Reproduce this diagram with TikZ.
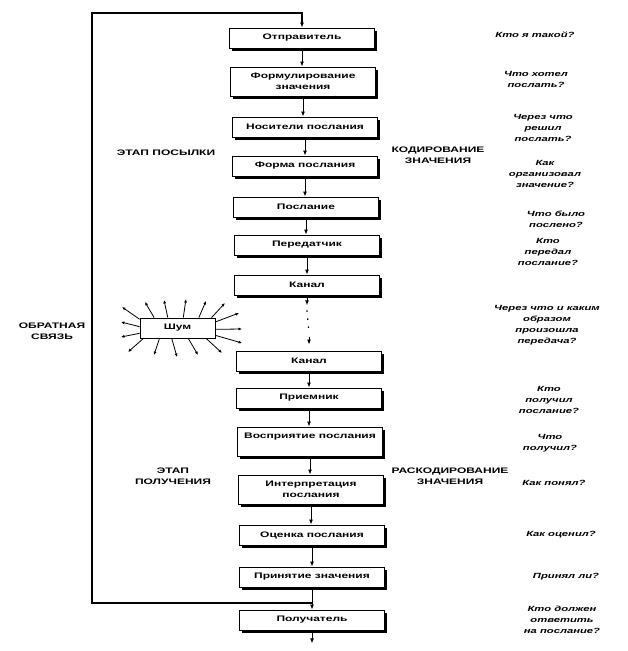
\documentclass[tikz,border=0pt]{standalone}
\usepackage{fontspec}
\setmainfont{Liberation Sans}[FakeStretch=1.5]
\usetikzlibrary{positioning,arrows.meta,shadows,calc}

\begin{document}
\begin{tikzpicture}[x=1pt, y=-1pt, every node/.style={font=\bfseries\fontsize{8}{11}\selectfont}]
  \tikzset{
    stagebox/.style={draw, fill=white, line width=0.8pt, minimum width=145pt, align=center, inner sep=1pt,
      drop shadow={shadow xshift=2.5pt, shadow yshift=-2.5pt, fill=black, opacity=1}},
    question/.style={align=center, font=\bfseries\itshape\fontsize{7.5}{11}\selectfont},
    caption/.style={align=center},
    flow/.style={-{Latex[length=5pt,width=4pt]}, line width=1pt},
    ray/.style={-{Latex[length=3.5pt,width=3pt]}, line width=0.8pt}
  }
  \useasboundingbox (0,0) rectangle (627,651);

  % chain of stages
  \foreach \n/\x/\y/\h/\t in {
      1/302/38/20/{Отправитель},
      2/303/81.5/29/{Формулирование\\значения},
      3/305/127/20/{Носители послания},
      4/305/166/20/{Форма послания},
      5/306/207/20/{Послание},
      6/307/245/20/{Передатчик},
      7/307/285/20/{Канал},
      8/309/361/20/{Канал},
      9/309/398/20/{Приемник},
      10/310/441.5/29/{Восприятие послания\\\mbox{}},
      11/311/489.5/29/{Интерпретация\\послания},
      12/312/535/20/{Оценка послания},
      13/312/577/20/{Принятие значения},
      14/312/620/20/{Получатель}} {
    \node[stagebox, minimum height=\h pt] (B\n) at (\x,\y) {\t};
  }

  \foreach \a/\b in {1/2,2/3,3/4,4/5,5/6,6/7,8/9,9/10,10/11,11/12,12/13,13/14} {
    \draw[flow] (B\a.south) -- (B\a.south |- B\b.north);
  }

  % channel gap
  \coordinate (d1) at ($(B7.south)+(0,10)$);
  \coordinate (d2) at ($(B8.north)+(0,-14)$);
  \coordinate (d3) at ($(B8.north)+(0,-6)$);
  \draw[flow] (B7.south) -- (d1);
  \draw[line width=1.2pt, dash pattern=on 1.5pt off 6.5pt] ($(d1)+(0,5)$) -- ($(d2)+(0,-3)$);
  \draw[flow] (d2) -- (d3);

  \coordinate (out) at ($(B14.south)+(0,13)$);
  \draw[flow] (B14.south) -- (out);

  % feedback loop
  \coordinate (fbj) at (B13.south |- 0,603);
  \coordinate (fbc) at (92,13);
  \draw[flow, line width=1.1pt] (fbj) -| (fbc) -| (B1.north);

  % noise
  \node[draw, line width=0.8pt, minimum width=75pt, minimum height=20pt] (noise) at (177.5,328) {Шум};
  \foreach \a/\ex/\ey in {167/122/307, 178/121/322, 188/121/337, 197/128/352,
      156/145/302, 133/164/300, 61/186/299, 26/206/301, 17/225/303,
      9/239/313, 358/242/329, 349/242/343,
      210/154/355, 241/177/357, 316/198/355, 340/222/353} {
    \draw[ray] (noise.\a) -- (\ex,\ey);
  }

  % stage captions
  \node[caption] (sendst) at (166,153) {ЭТАП ПОСЫЛКИ};
  \node[caption] (enc) at (438,155) {КОДИРОВАНИЕ\\ЗНАЧЕНИЯ};
  \node[caption] (fb) at (52,331) {ОБРАТНАЯ\\СВЯЗЬ};
  \node[caption] (recvst) at (173,476) {ЭТАП\\ПОЛУЧЕНИЯ};
  \node[caption] (dec) at (450,476) {РАСКОДИРОВАНИЕ\\ЗНАЧЕНИЯ};

  % questions
  \foreach \n/\x/\y/\t in {
      1/535/35/{Кто я такой?},
      2/536/79/{Что хотел\\послать?},
      3/543/128/{Через что\\решил\\послать?},
      4/545/174/{Как\\организовал\\значение?},
      5/556/219/{Что было\\послено?},
      6/548/252/{Кто\\передал\\послание?},
      7/547/325/{Через что и каким\\образом\\произошла\\передача?},
      8/549/400/{Кто\\получил\\послание?},
      9/550/443/{Что\\получил?},
      10/554/483/{Как понял?},
      11/561/535/{Как оценил?},
      12/566/577/{Принял ли?},
      13/562/620/{Кто должен\\ответить\\на послание?}} {
    \node[question] (Q\n) at (\x,\y) {\t};
  }
\end{tikzpicture}
\end{document}
